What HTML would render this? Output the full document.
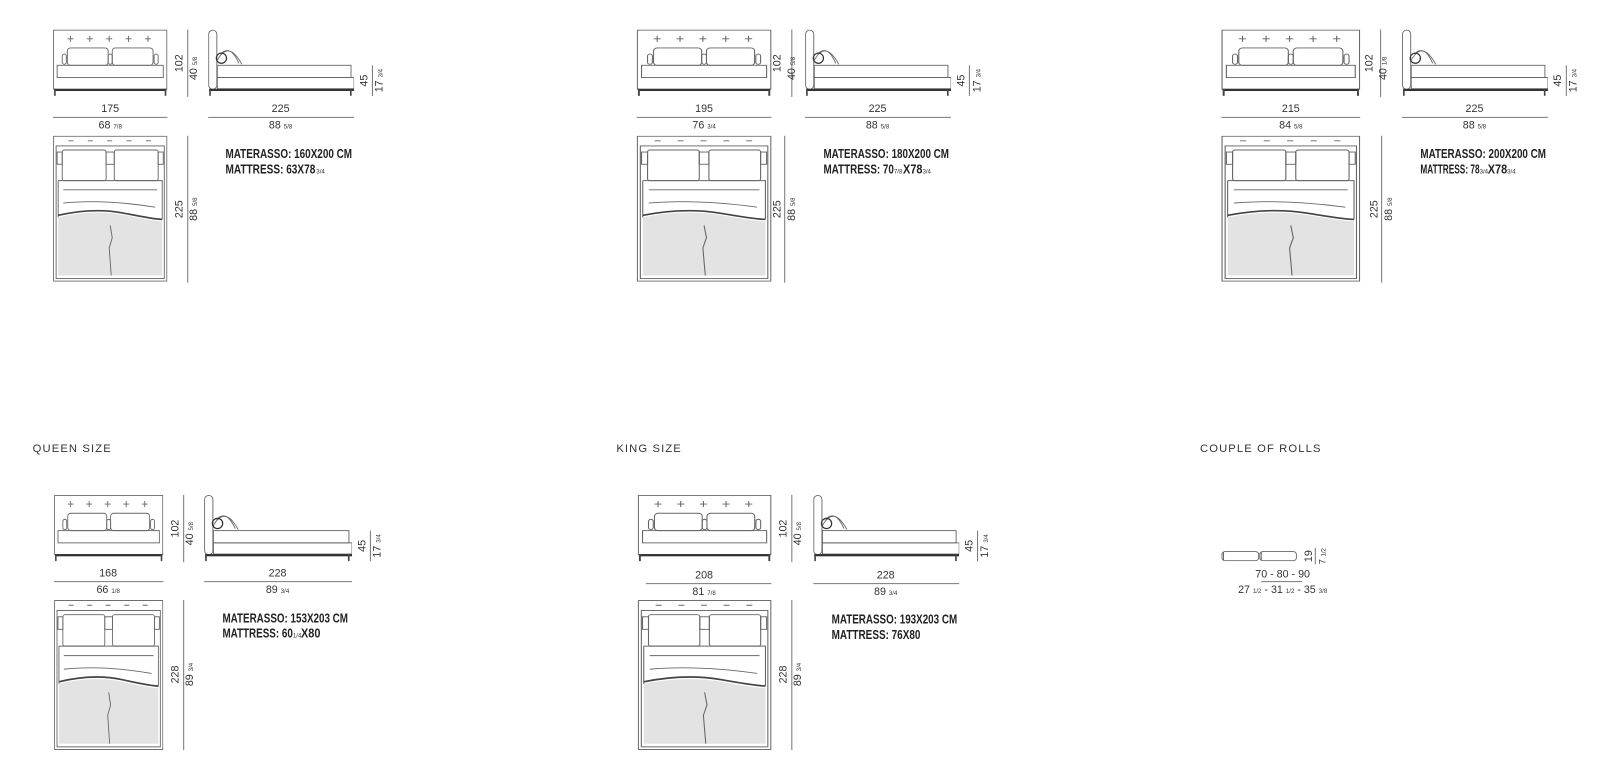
<!DOCTYPE html>
<html><head><meta charset="utf-8"><style>
html,body{margin:0;padding:0;background:#fff;}
svg{display:block;font-family:"Liberation Sans",sans-serif;}
.d{font-size:10.5px;fill:#333;}
.s{font-size:6px;fill:#333;}
.m{font-size:12.5px;font-weight:bold;fill:#222;}
.h{font-size:11px;fill:#333;letter-spacing:1.1px;}
</style></head><body>
<svg width="1600" height="765" viewBox="0 0 1568 749.7" preserveAspectRatio="none" xmlns="http://www.w3.org/2000/svg">
<defs>
<symbol id="front" viewBox="0 0 112 65" preserveAspectRatio="none">
 <g fill="none" stroke="#666" stroke-width="0.9">
  <rect x="0.5" y="0.5" width="111" height="58"/>
  <rect x="4" y="35" width="104" height="12"/>
  <path d="M14,9h6M17,6v6M33,9h6M36,6v6M52,9h6M55,6v6M71,9h6M74,6v6M90,9h6M93,6v6"/>
  <rect x="14" y="18" width="40" height="17" rx="3"/>
  <rect x="58" y="18" width="40" height="17" rx="3"/>
  <rect x="9" y="24" width="4" height="10" rx="2"/>
  <rect x="54" y="24" width="4" height="10" rx="2"/>
  <rect x="99" y="24" width="4" height="10" rx="2"/>
 </g>
 <rect x="1" y="58" width="110" height="2.2" fill="#333"/>
 <rect x="1" y="58" width="1.6" height="7" fill="#444"/>
 <rect x="109.4" y="58" width="1.6" height="7" fill="#444"/>
</symbol>
<symbol id="side" viewBox="0 0 143 65" preserveAspectRatio="none">
 <g fill="none" stroke="#666" stroke-width="0.9">
  <rect x="0.5" y="0.5" width="8" height="58" rx="4"/>
  <path d="M9,30 Q20,10 33,34"/>
  <path d="M12,24 Q22,14 30,33"/>
  <circle cx="13" cy="28" r="5" stroke="#333" stroke-width="1.2"/>
  <rect x="9" y="35" width="131" height="12"/>
  <rect x="9" y="47" width="134" height="11"/>
 </g>
 <rect x="1" y="58" width="142" height="2.2" fill="#333"/>
 <rect x="1" y="58" width="1.6" height="7" fill="#444"/>
 <rect x="139" y="58" width="1.6" height="7" fill="#444"/>
</symbol>
<symbol id="top" viewBox="0 0 112 143" preserveAspectRatio="none">
 <path d="M5,80 Q40,72 70,78 T107,84 L107,137 L5,137 Z" fill="#e3e3e3"/>
 <g fill="none" stroke="#666" stroke-width="0.9">
  <rect x="0.5" y="0.5" width="111" height="142"/>
  <rect x="3" y="10" width="106" height="130"/>
  <path d="M15,5h5M34,5h5M53,5h5M72,5h5M91,5h5"/>
  <rect x="9" y="14" width="43" height="30" rx="2"/>
  <rect x="60" y="14" width="43" height="30" rx="2"/>
  <rect x="4" y="16" width="5" height="12"/>
  <rect x="52" y="16" width="8" height="12"/>
  <rect x="103" y="16" width="5" height="12"/>
  <path d="M5,44 L107,44 L107,82 M5,44 L5,80"/>
  <path d="M10,53 L102,53 M10,66 Q50,62 100,70"/>
  <path d="M5,78 Q40,70 70,76 T107,82" stroke="#444" stroke-width="1.6"/>
  <path d="M56,88 L58,100 L55,110 L57,137"/>
 </g>
</symbol>
<symbol id="roll" viewBox="0 0 37 10" preserveAspectRatio="none">
 <rect x="0.5" y="0.5" width="36" height="9" rx="3" fill="none" stroke="#666" stroke-width="0.9"/>
 <path d="M2,1v8" stroke="#666"/>
</symbol>
</defs>

<g transform="translate(52,29)">
 <use href="#front" x="0" y="0" width="112" height="65"/>
 <line x1="132" y1="0" x2="132" y2="66" stroke="#777"/>
 <text class="d" transform="translate(127,33) rotate(-90)" text-anchor="middle">102</text>
 <text class="d" transform="translate(141,38) rotate(-90)" text-anchor="middle">40 <tspan class="s">5/8</tspan></text>
 <use href="#side" x="152" y="0" width="143" height="65"/>
 <line x1="313" y1="35" x2="313" y2="65" stroke="#777"/>
 <text class="d" transform="translate(308,50) rotate(-90)" text-anchor="middle">45</text>
 <text class="d" transform="translate(323,50) rotate(-90)" text-anchor="middle">17 <tspan class="s">3/4</tspan></text>
 <text class="d" x="56" y="81" text-anchor="middle">175</text>
 <line x1="0" y1="86" x2="112" y2="86" stroke="#777"/>
 <text class="d" x="56" y="97" text-anchor="middle">68 <tspan class="s">7/8</tspan></text>
 <text class="d" x="223" y="81" text-anchor="middle">225</text>
 <line x1="152" y1="86" x2="295" y2="86" stroke="#777"/>
 <text class="d" x="223" y="97" text-anchor="middle">88 <tspan class="s">5/8</tspan></text>
 <use href="#top" x="0" y="104" width="112" height="143"/>
 <line x1="132" y1="104" x2="132" y2="248" stroke="#777"/>
 <text class="d" transform="translate(127,176) rotate(-90)" text-anchor="middle">225</text>
 <text class="d" transform="translate(141,176) rotate(-90)" text-anchor="middle">88 <tspan class="s">5/8</tspan></text>
 <text class="m" x="169" y="126" textLength="124" lengthAdjust="spacingAndGlyphs">MATERASSO: 160X200 CM</text>
 <text class="m" x="169" y="141" textLength="88" lengthAdjust="spacingAndGlyphs">MATTRESS: 63X78</text><text class="s" x="258" y="141">3/4</text>
</g>

<g transform="translate(624,29)">
 <use href="#front" x="0" y="0" width="132" height="65"/>
 <line x1="152" y1="0" x2="152" y2="66" stroke="#777"/>
 <text class="d" transform="translate(141,33) rotate(-90)" text-anchor="middle">102</text>
 <text class="d" transform="translate(155,38) rotate(-90)" text-anchor="middle">40 <tspan class="s">5/8</tspan></text>
 <use href="#side" x="165" y="0" width="143" height="65"/>
 <line x1="326" y1="35" x2="326" y2="65" stroke="#777"/>
 <text class="d" transform="translate(321,50) rotate(-90)" text-anchor="middle">45</text>
 <text class="d" transform="translate(337,50) rotate(-90)" text-anchor="middle">17 <tspan class="s">3/4</tspan></text>
 <text class="d" x="66" y="81" text-anchor="middle">195</text>
 <line x1="0" y1="86" x2="132" y2="86" stroke="#777"/>
 <text class="d" x="66" y="97" text-anchor="middle">76 <tspan class="s">3/4</tspan></text>
 <text class="d" x="236" y="81" text-anchor="middle">225</text>
 <line x1="165" y1="86" x2="308" y2="86" stroke="#777"/>
 <text class="d" x="236" y="97" text-anchor="middle">88 <tspan class="s">5/8</tspan></text>
 <use href="#top" x="0" y="104" width="132" height="143"/>
 <line x1="145" y1="104" x2="145" y2="248" stroke="#777"/>
 <text class="d" transform="translate(141,176) rotate(-90)" text-anchor="middle">225</text>
 <text class="d" transform="translate(155,176) rotate(-90)" text-anchor="middle">88 <tspan class="s">5/8</tspan></text>
 <text class="m" x="183" y="126" textLength="123" lengthAdjust="spacingAndGlyphs">MATERASSO: 180X200 CM</text>
 <text class="m" x="183" y="141" textLength="69" lengthAdjust="spacingAndGlyphs">MATTRESS: 70</text><text class="s" x="252" y="141">7/8</text><text class="m" x="261" y="141" textLength="19" lengthAdjust="spacingAndGlyphs">X78</text><text class="s" x="280" y="141">3/4</text>
</g>

<g transform="translate(1197,29)">
 <use href="#front" x="0" y="0" width="136" height="65"/>
 <line x1="156" y1="0" x2="156" y2="66" stroke="#777"/>
 <text class="d" transform="translate(148,33) rotate(-90)" text-anchor="middle">102</text>
 <text class="d" transform="translate(162,38) rotate(-90)" text-anchor="middle">40 <tspan class="s">1/8</tspan></text>
 <use href="#side" x="177" y="0" width="143" height="65"/>
 <line x1="338" y1="35" x2="338" y2="65" stroke="#777"/>
 <text class="d" transform="translate(333,50) rotate(-90)" text-anchor="middle">45</text>
 <text class="d" transform="translate(348,50) rotate(-90)" text-anchor="middle">17 <tspan class="s">3/4</tspan></text>
 <text class="d" x="68" y="81" text-anchor="middle">215</text>
 <line x1="0" y1="86" x2="136" y2="86" stroke="#777"/>
 <text class="d" x="68" y="97" text-anchor="middle">84 <tspan class="s">5/8</tspan></text>
 <text class="d" x="248" y="81" text-anchor="middle">225</text>
 <line x1="177" y1="86" x2="320" y2="86" stroke="#777"/>
 <text class="d" x="248" y="97" text-anchor="middle">88 <tspan class="s">5/8</tspan></text>
 <use href="#top" x="0" y="104" width="136" height="143"/>
 <line x1="157" y1="104" x2="157" y2="248" stroke="#777"/>
 <text class="d" transform="translate(153,176) rotate(-90)" text-anchor="middle">225</text>
 <text class="d" transform="translate(167,176) rotate(-90)" text-anchor="middle">88 <tspan class="s">5/8</tspan></text>
 <text class="m" x="195" y="126" textLength="123" lengthAdjust="spacingAndGlyphs">MATERASSO: 200X200 CM</text>
 <text class="m" x="195" y="141" textLength="58" lengthAdjust="spacingAndGlyphs">MATTRESS: 78</text><text class="s" x="253" y="141">3/4</text><text class="m" x="261" y="141" textLength="19" lengthAdjust="spacingAndGlyphs">X78</text><text class="s" x="280" y="141">3/4</text>
</g>

<text class="h" x="32" y="443">QUEEN SIZE</text>
<text class="h" x="604" y="443">KING SIZE</text>
<text class="h" x="1176" y="443">COUPLE OF ROLLS</text>

<g transform="translate(53,485)">
 <use href="#front" x="0" y="0" width="107" height="65"/>
 <line x1="127" y1="0" x2="127" y2="66" stroke="#777"/>
 <text class="d" transform="translate(122,33) rotate(-90)" text-anchor="middle">102</text>
 <text class="d" transform="translate(136,38) rotate(-90)" text-anchor="middle">40 <tspan class="s">5/8</tspan></text>
 <use href="#side" x="147" y="0" width="145" height="65"/>
 <line x1="310" y1="35" x2="310" y2="65" stroke="#777"/>
 <text class="d" transform="translate(305,50) rotate(-90)" text-anchor="middle">45</text>
 <text class="d" transform="translate(320,50) rotate(-90)" text-anchor="middle">17 <tspan class="s">3/4</tspan></text>
 <text class="d" x="53" y="80" text-anchor="middle">168</text>
 <line x1="0" y1="85" x2="107" y2="85" stroke="#777"/>
 <text class="d" x="53" y="96" text-anchor="middle">66 <tspan class="s">1/8</tspan></text>
 <text class="d" x="219" y="80" text-anchor="middle">228</text>
 <line x1="147" y1="85" x2="292" y2="85" stroke="#777"/>
 <text class="d" x="219" y="96" text-anchor="middle">89 <tspan class="s">3/4</tspan></text>
 <use href="#top" x="0" y="103" width="107" height="147"/>
 <line x1="127" y1="103" x2="127" y2="250" stroke="#777"/>
 <text class="d" transform="translate(122,176) rotate(-90)" text-anchor="middle">228</text>
 <text class="d" transform="translate(136,176) rotate(-90)" text-anchor="middle">89 <tspan class="s">3/4</tspan></text>
 <text class="m" x="165" y="125" textLength="123" lengthAdjust="spacingAndGlyphs">MATERASSO: 153X203 CM</text>
 <text class="m" x="165" y="140" textLength="69" lengthAdjust="spacingAndGlyphs">MATTRESS: 60</text><text class="s" x="234" y="140">1/4</text><text class="m" x="242" y="140" textLength="19" lengthAdjust="spacingAndGlyphs">X80</text>
</g>

<g transform="translate(625,485)">
 <use href="#front" x="0" y="0" width="131" height="65"/>
 <line x1="151" y1="0" x2="151" y2="66" stroke="#777"/>
 <text class="d" transform="translate(146,33) rotate(-90)" text-anchor="middle">102</text>
 <text class="d" transform="translate(160,38) rotate(-90)" text-anchor="middle">40 <tspan class="s">5/8</tspan></text>
 <use href="#side" x="172" y="0" width="143" height="65"/>
 <line x1="333" y1="35" x2="333" y2="65" stroke="#777"/>
 <text class="d" transform="translate(328,50) rotate(-90)" text-anchor="middle">45</text>
 <text class="d" transform="translate(343,50) rotate(-90)" text-anchor="middle">17 <tspan class="s">3/4</tspan></text>
 <text class="d" x="65" y="82" text-anchor="middle">208</text>
 <line x1="8" y1="87" x2="131" y2="87" stroke="#777"/>
 <text class="d" x="65" y="98" text-anchor="middle">81 <tspan class="s">7/8</tspan></text>
 <text class="d" x="243" y="82" text-anchor="middle">228</text>
 <line x1="172" y1="87" x2="315" y2="87" stroke="#777"/>
 <text class="d" x="243" y="98" text-anchor="middle">89 <tspan class="s">3/4</tspan></text>
 <use href="#top" x="0" y="103" width="131" height="147"/>
 <line x1="151" y1="103" x2="151" y2="250" stroke="#777"/>
 <text class="d" transform="translate(146,176) rotate(-90)" text-anchor="middle">228</text>
 <text class="d" transform="translate(160,176) rotate(-90)" text-anchor="middle">89 <tspan class="s">3/4</tspan></text>
 <text class="m" x="190" y="126" textLength="123" lengthAdjust="spacingAndGlyphs">MATERASSO: 193X203 CM</text>
 <text class="m" x="190" y="141" textLength="87" lengthAdjust="spacingAndGlyphs">MATTRESS: 76X80</text>
</g>

<use href="#roll" x="1197" y="540" width="37" height="10"/>
<use href="#roll" x="1234" y="540" width="37" height="10"/>
<line x1="1289" y1="537" x2="1289" y2="553" stroke="#777"/>
<text class="d" transform="translate(1286,545) rotate(-90)" text-anchor="middle">19</text>
<text class="d" transform="translate(1299,545) rotate(-90)" text-anchor="middle" style="font-size:9px">7 <tspan class="s">1/2</tspan></text>
<text class="d" x="1257" y="566" text-anchor="middle">70 - 80 - 90</text>
<line x1="1236" y1="570" x2="1276" y2="570" stroke="#777"/>
<text class="d" x="1257" y="581" text-anchor="middle">27 <tspan class="s">1/2</tspan> - 31 <tspan class="s">1/2</tspan> - 35 <tspan class="s">3/8</tspan></text>
</svg>
</body></html>
